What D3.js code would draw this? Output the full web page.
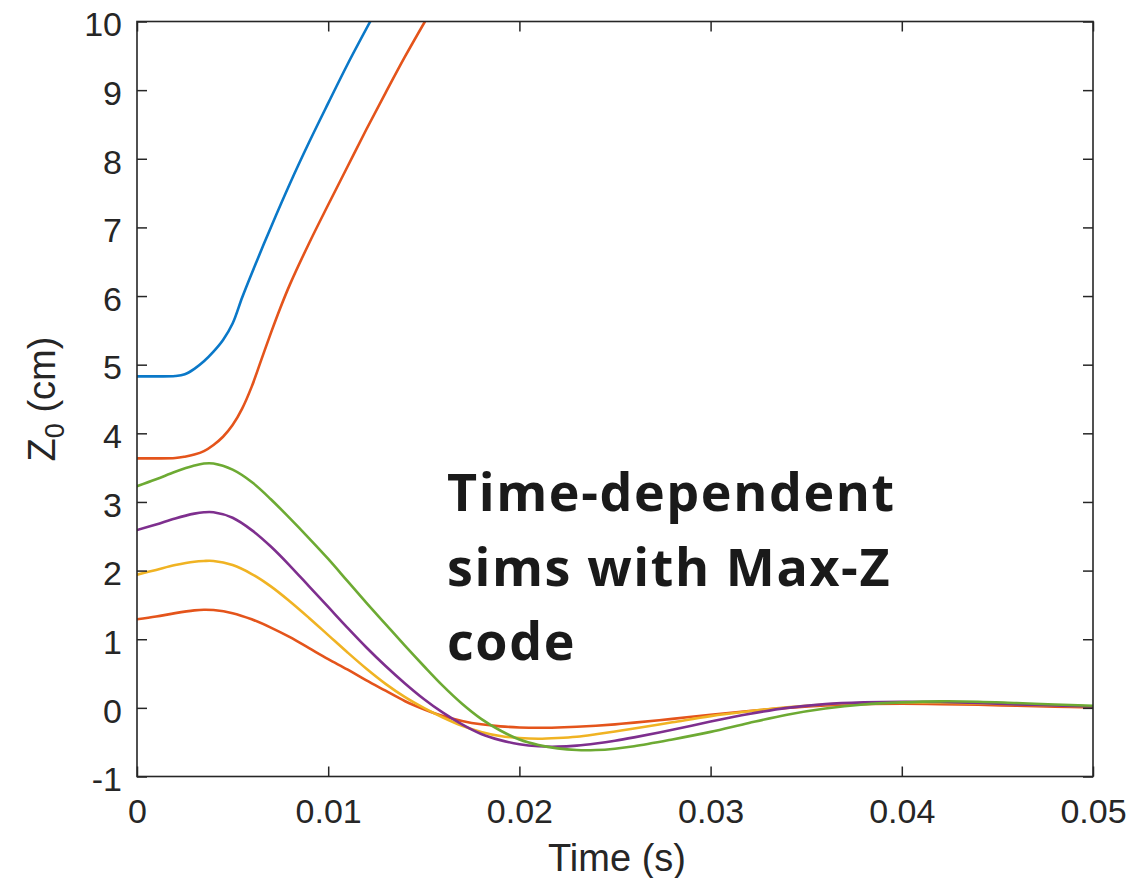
<!DOCTYPE html>
<html>
<head>
<meta charset="utf-8">
<script src="https://cdn.jsdelivr.net/npm/d3@7"></script>
<style>
  html, body { margin: 0; padding: 0; background: #ffffff; }
  svg { display: block; }
</style>
</head>
<body>
<svg id="chart" width="1137" height="878"></svg>
<script>
// Time samples (s) shared by the four lower runs
const tLow = [0, 0.001, 0.002, 0.003, 0.0035, 0.004, 0.005, 0.006, 0.007, 0.008, 0.009,
  0.010, 0.011, 0.012, 0.013, 0.014, 0.015, 0.016, 0.017, 0.018, 0.019, 0.020, 0.021,
  0.022, 0.023, 0.024, 0.025, 0.026, 0.028, 0.030, 0.032, 0.034, 0.036, 0.038, 0.040,
  0.042, 0.044, 0.046, 0.048, 0.050];

// Z0 (cm) for the runs that stay confined
const zGreen  = [3.23, 3.33, 3.44, 3.53, 3.56, 3.56, 3.47, 3.29, 3.04, 2.76, 2.47,
  2.17, 1.85, 1.53, 1.22, 0.91, 0.61, 0.32, 0.06, -0.16, -0.33, -0.46, -0.54,
  -0.59, -0.615, -0.615, -0.595, -0.56, -0.46, -0.35, -0.22, -0.10, -0.01, 0.05, 0.08,
  0.095, 0.09, 0.07, 0.05, 0.03];
const zPurple = [2.59, 2.67, 2.76, 2.83, 2.85, 2.85, 2.77, 2.59, 2.35, 2.07, 1.77,
  1.47, 1.17, 0.88, 0.61, 0.36, 0.13, -0.07, -0.24, -0.38, -0.47, -0.53, -0.56,
  -0.565, -0.55, -0.52, -0.48, -0.43, -0.32, -0.20, -0.09, 0.0, 0.055, 0.08, 0.09,
  0.085, 0.07, 0.05, 0.035, 0.02];
const zYellow = [1.94, 2.01, 2.08, 2.13, 2.14, 2.14, 2.08, 1.95, 1.77, 1.55, 1.31,
  1.06, 0.81, 0.57, 0.35, 0.16, 0.0, -0.14, -0.26, -0.35, -0.41, -0.44, -0.45,
  -0.44, -0.42, -0.385, -0.345, -0.30, -0.21, -0.12, -0.05, 0.01, 0.05, 0.07, 0.08,
  0.075, 0.065, 0.05, 0.035, 0.02];
const zRed    = [1.29, 1.33, 1.38, 1.42, 1.43, 1.425, 1.38, 1.29, 1.17, 1.03, 0.87,
  0.71, 0.56, 0.40, 0.25, 0.10, -0.02, -0.12, -0.19, -0.24, -0.27, -0.285, -0.29,
  -0.285, -0.275, -0.26, -0.24, -0.215, -0.16, -0.10, -0.045, 0.0, 0.035, 0.055, 0.06,
  0.055, 0.045, 0.03, 0.017, 0.005];

// Runs that escape upward (leave the 10 cm window)
const tBlue = [0, 0.001, 0.002, 0.0025, 0.003, 0.0035, 0.004, 0.0045, 0.005, 0.0055,
  0.006, 0.007, 0.008, 0.009, 0.010, 0.011, 0.0122];
const zBlue = [4.83, 4.83, 4.835, 4.86, 4.94, 5.05, 5.19, 5.36, 5.60, 5.98,
  6.33, 7.00, 7.64, 8.24, 8.81, 9.37, 10.0];
const tOrange = [0, 0.001, 0.002, 0.0025, 0.003, 0.0035, 0.004, 0.0045, 0.005, 0.0055,
  0.006, 0.0065, 0.007, 0.0075, 0.008, 0.009, 0.010, 0.011, 0.012, 0.013, 0.014, 0.01506];
const zOrange = [3.635, 3.635, 3.64, 3.66, 3.69, 3.74, 3.83, 3.95, 4.12, 4.36,
  4.68, 5.07, 5.46, 5.83, 6.17, 6.77, 7.33, 7.88, 8.43, 8.96, 9.48, 10.0];

// Axis ticks and labels
const xTicks = [0, 0.01, 0.02, 0.03, 0.04, 0.05];
const xTickLabels = ["0", "0.01", "0.02", "0.03", "0.04", "0.05"];
const yTicks = [-1, 0, 1, 2, 3, 4, 5, 6, 7, 8, 9, 10];
const yTickLabels = ["-1", "0", "1", "2", "3", "4", "5", "6", "7", "8", "9", "10"];

const noteLines = ["Time-dependent", "sims with Max-Z", "code"];

// Series table (draw order: bottom runs first, then escaping runs)
const series = [
  { t: tLow, z: zRed,    color: "#E4541B" },
  { t: tLow, z: zYellow, color: "#F0B323" },
  { t: tLow, z: zPurple, color: "#7E2F8E" },
  { t: tLow, z: zGreen,  color: "#6DAA33" },
  { t: tOrange, z: zOrange, color: "#E4541B" },
  { t: tBlue,   z: zBlue,   color: "#0A78C8" }
];

const svg = d3.select("#chart");
const plotL = 137, plotR = 1093, plotT = 21.5, plotB = 776.5;
const axisColor = "#262626";

const x = d3.scaleLinear().domain([0, 0.05]).range([plotL, plotR]);
const y = d3.scaleLinear().domain([-1, 10]).range([plotB, plotT]);

svg.append("defs").append("clipPath").attr("id", "plotClip")
  .append("rect")
  .attr("x", plotL).attr("y", plotT)
  .attr("width", plotR - plotL).attr("height", plotB - plotT);

// Curves
const line = d3.line()
  .x(d => x(d[0]))
  .y(d => y(d[1]))
  .curve(d3.curveCatmullRom.alpha(0.5));

const plot = svg.append("g").attr("clip-path", "url(#plotClip)");
series.forEach(s => {
  plot.append("path")
    .datum(s.t.map((t, i) => [t, s.z[i]]))
    .attr("d", line)
    .attr("fill", "none")
    .attr("stroke", s.color)
    .attr("stroke-width", 2.6)
    .attr("stroke-linejoin", "round")
    .attr("stroke-linecap", "round");
});

// Axes: inward ticks on all four sides, box outline
const tickLen = 10;
const fmtX = (d, i) => xTickLabels[i];
const fmtY = (d, i) => yTickLabels[i];

const gBottom = svg.append("g").attr("transform", `translate(0,${plotB})`)
  .call(d3.axisBottom(x).tickValues(xTicks).tickFormat(fmtX)
    .tickSizeInner(-tickLen).tickSizeOuter(0).tickPadding(22));
const gTop = svg.append("g").attr("transform", `translate(0,${plotT})`)
  .call(d3.axisTop(x).tickValues(xTicks).tickFormat("")
    .tickSizeInner(-tickLen).tickSizeOuter(0));
const gLeft = svg.append("g").attr("transform", `translate(${plotL},0)`)
  .call(d3.axisLeft(y).tickValues(yTicks).tickFormat(fmtY)
    .tickSizeInner(-tickLen).tickSizeOuter(0).tickPadding(15));
const gRight = svg.append("g").attr("transform", `translate(${plotR},0)`)
  .call(d3.axisRight(y).tickValues(yTicks).tickFormat("")
    .tickSizeInner(-tickLen).tickSizeOuter(0));

[gBottom, gTop, gLeft, gRight].forEach(g => {
  g.select(".domain").attr("stroke", "none");
  g.selectAll(".tick line").attr("stroke", axisColor).attr("stroke-width", 1.5);
  g.selectAll(".tick text")
    .attr("fill", axisColor)
    .attr("font-family", "'Liberation Sans', Arial, Helvetica, sans-serif")
    .attr("font-size", 34);
});
gLeft.selectAll(".tick text").attr("dy", "0.42em");
gBottom.selectAll(".tick text").attr("dy", "0.71em");

svg.append("rect")
  .attr("x", plotL).attr("y", plotT)
  .attr("width", plotR - plotL).attr("height", plotB - plotT)
  .attr("fill", "none")
  .attr("stroke", axisColor)
  .attr("stroke-width", 1.6);

// Axis titles
svg.append("text")
  .attr("x", (plotL + plotR) / 2 + 2)
  .attr("y", 871)
  .attr("text-anchor", "middle")
  .attr("fill", axisColor)
  .attr("font-family", "'Liberation Sans', Arial, Helvetica, sans-serif")
  .attr("font-size", 38)
  .text("Time (s)");

const yTitle = svg.append("text")
  .attr("transform", `translate(55,${(plotT + plotB) / 2}) rotate(-90)`)
  .attr("text-anchor", "middle")
  .attr("fill", axisColor)
  .attr("font-family", "'Liberation Sans', Arial, Helvetica, sans-serif")
  .attr("font-size", 38);
yTitle.append("tspan").text("Z");
yTitle.append("tspan").attr("font-size", 27).attr("dy", 9).text("0");
yTitle.append("tspan").attr("dy", -9).text(" (cm)");

// Annotation
const note = svg.append("text")
  .attr("fill", "#1a1a1a")
  .attr("font-family", "'Open Sans', 'Noto Sans', sans-serif")
  .attr("font-weight", 700)
  .attr("font-size", 52)
  .attr("letter-spacing", 1.6);
noteLines.forEach((s, i) => {
  note.append("tspan").attr("x", 447).attr("y", 511 + i * 74.5).text(s);
});
</script>
</body>
</html>
